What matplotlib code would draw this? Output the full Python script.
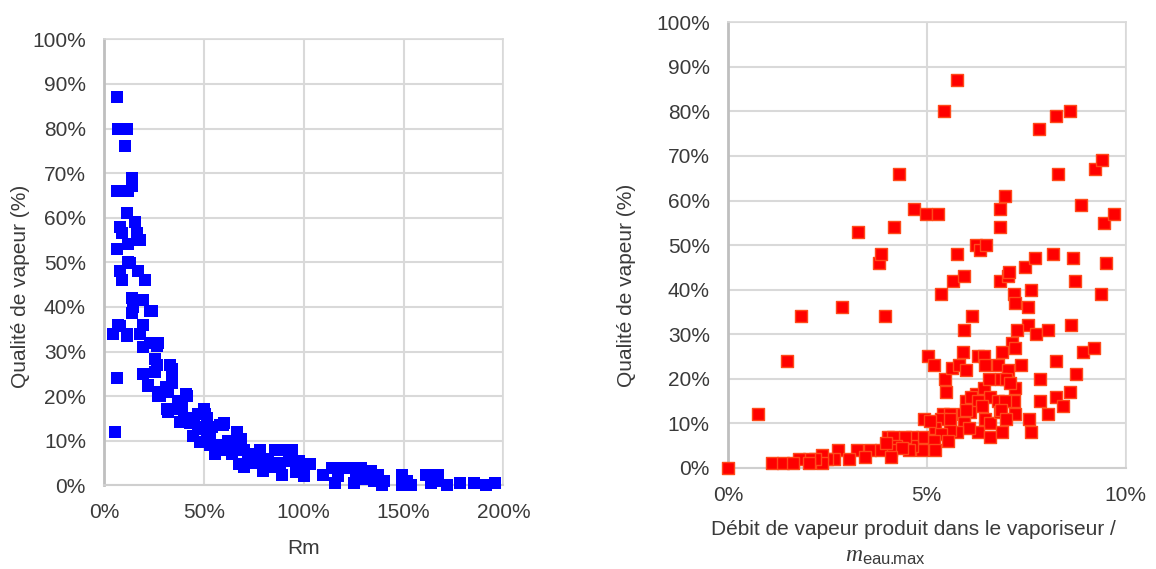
import matplotlib
matplotlib.use("Agg")
import matplotlib.pyplot as plt
from matplotlib.ticker import FuncFormatter, MultipleLocator

plt.rcParams["font.family"] = ["Liberation Sans", "DejaVu Sans"]
plt.rcParams["mathtext.fontset"] = "custom"
plt.rcParams["mathtext.rm"] = "Liberation Sans"
plt.rcParams["mathtext.it"] = "Liberation Serif:italic"

# left panel: vapour quality vs Rm (both in %)
rm = [6.3, 7.2, 11.4, 10.5, 13.9, 13.9, 6.3, 12.2, 11.4, 15.5, 8, 17.2, 8.9, 6.3,
      12.2, 12.2, 8, 17.2, 8.9, 20.5, 13.9, 19.7, 14.7, 23, 19.7, 4.7, 11.4, 18,
      7.2, 23, 27.2, 19.7, 25.5, 6.3, 19.7, 25.5, 33.9, 22.2, 28.1, 33.9, 41.4,
      32.2, 38.1, 43.1, 50.6, 49.8, 59.8, 66.5, 44.8, 48.1, 5.5, 53.1, 68.1, 61.5,
      16.4, 18, 13, 13.9, 8, 26.4, 11.4,
      24, 26.5, 22, 27.5, 31, 33, 34, 32, 27, 31.6, 36, 41, 37, 39, 42, 45, 40,
      44.5, 50, 51.4, 47, 51.4, 54, 58, 60,
      55.7, 61.7, 65.1, 66.8, 68.6, 67.7, 72, 76.3, 78, 78.9, 79.7, 85.7, 90.9,
      94.3, 92.6, 89.2, 97.8, 99.5, 103, 109.8, 114, 115.8, 120, 123.5, 125.3,
      128.7, 130.4, 133.8, 137.3, 139, 149.3, 149.3, 153.6, 161.3, 163.9, 167.4,
      171.6, 178.5, 185.4, 191.4, 195.7,
      62, 70, 74, 82, 84, 88, 96, 100, 117, 126, 131, 135, 140, 152, 166, 70, 64,
      57, 53, 47]
qualite_rm = [87, 80, 80, 76, 69, 67, 66, 66, 61, 59, 58, 55, 56.5, 53,
              54, 50, 48, 48, 46, 46, 42, 41.5, 40, 39, 36, 34, 34, 34,
              36, 32, 32, 31, 28.3, 24, 25, 25.3, 26, 22.3, 20, 23, 20,
              16.5, 14.2, 14, 16, 12.7, 13.5, 11.6, 11, 9.7, 12, 9, 9.7, 8.2,
              56.6, 55, 49.9, 38.7, 35.7, 31.3, 33.5,
              39, 27, 22.5, 21, 22, 27, 25, 21, 20, 17, 17, 20.5, 19, 17.5, 15, 14.5, 14.5,
              11, 17, 15, 13, 10.5, 13, 13.5, 14,
              7.1, 7.9, 8.7, 12, 10.4, 4.7, 6.3, 7.1, 7.9, 5.5, 3.1, 7.9, 7.9,
              7.9, 5.5, 2.3, 5.5, 3.9, 4.7, 2.3, 3.9, 0.6, 3.9, 3.9, 0.6,
              3.9, 1.5, 3.1, 2.3, 0, 2.3, 0, 0, 2.3, 0.6, 2.3,
              0, 0.6, 0.6, 0, 0.6,
              10, 8, 5, 6, 4, 5, 3, 2, 2, 2, 3, 1, 1, 1, 1, 4, 7,
              9, 11.5, 16]

# right panel: vapour quality vs produced vapour flow / m_eau,max (both in %)
debit = [0, 0.76, 1.5, 1.83, 2.88, 3.28, 3.81, 3.84, 3.96, 4.18, 4.31, 4.69, 4.98,
         5.29, 5.43, 5.76, 5.36, 5.65, 5.76, 5.94, 6.14, 5.94, 6.25, 6.34, 6.5,
         6.83, 6.83, 6.98, 6.83, 7.05, 7.07, 7.2, 7.23, 7.46, 7.72, 7.63, 7.54,
         7.54, 7.28, 7.75, 7.83, 8.24, 8.59, 8.29, 8.17, 8.69, 8.73, 8.88, 9.24,
         9.4, 9.46, 9.71, 9.51, 9.38, 8.06, 8.64, 7.14, 7.23, 6.9, 5.91, 8.93,
         9.21, 8.24, 8.75, 7.86, 7.36, 8.59, 8.24, 8.06, 8.42, 7.86, 7.57, 7.63,
         7.23, 7.2, 7.23, 5.04, 5.18, 5.45, 5.48, 5.63, 5.8, 5.98, 6.28, 6.43,
         6.47, 6.79, 7.05, 6.25, 5.98, 6.12, 6.43, 6.56, 6.88, 7.0, 7.1, 6.6,
         6.79, 6.96, 6.3, 6.38, 5.9, 6.1, 5.98, 6.47, 6.6, 6.83, 6.88, 7.0, 6.3,
         6.6, 6.9, 5.94, 6.07, 5.76, 5.58, 5.4, 5.58, 5.36, 5.58, 5.22, 5.36,
         5.54, 5.18, 5.22, 4.93, 5.09, 4.87, 4.87, 4.64, 4.64, 4.46, 4.55, 4.02,
         4.15, 4.24, 4.11, 4.37, 3.57, 3.84, 3.97, 3.26, 3.44, 2.77, 3.04, 2.68,
         2.5, 2.37, 2.37, 2.19, 2.05, 1.79, 1.12, 1.38, 1.65, 2.05, 4.11]
qualite_debit = [0, 12, 24, 34, 36, 53, 46, 48, 34, 54, 66, 58, 57,
                 57, 80, 87, 39, 42, 48, 43, 34, 31, 50, 49, 50,
                 58, 54, 61, 42, 43, 44, 39, 37, 45, 47, 40, 36,
                 32, 31, 30, 76, 79, 80, 66, 48, 47, 42, 59, 67,
                 69, 55, 57, 46, 39, 31, 32, 28, 27, 26, 26, 26,
                 27, 24, 21, 20, 23, 17, 16, 12, 14, 15, 11, 8,
                 12, 15, 18, 25, 23, 20, 17, 22.5, 23, 22, 25, 25,
                 23, 23, 22, 16.5, 15, 16, 18, 20, 20, 20, 19, 16,
                 15, 15, 15, 14, 12, 12.5, 13, 11, 10, 12.5, 13, 11, 8,
                 7, 8, 10, 9, 8, 8.5, 12, 12, 11, 11, 9, 7.5,
                 6, 6, 4, 11, 10.5, 7, 4, 7, 5, 7, 4, 7,
                 7, 5, 4, 4.5, 4, 4, 5.5, 4, 2.5, 4, 2, 2,
                 2, 3, 1, 2, 2, 2, 1, 1, 1, 1, 2.5]

TXT = "#3a3a3a"
GRID = "#d9d9d9"
pct = FuncFormatter(lambda v, _: f"{v:.0f}%")

fig = plt.figure(figsize=(11.56, 5.69), dpi=100)
ax1 = fig.add_axes([0.0900, 0.1471, 0.3454, 0.7838])
ax2 = fig.add_axes([0.6296, 0.1777, 0.3441, 0.7831])

ax1.scatter(rm, qualite_rm, marker="s", s=72, color="#0000ff", linewidths=0,
            clip_on=False, zorder=3)
ax2.scatter(debit, qualite_debit, marker="s", s=66, facecolor="#ff0000",
            edgecolor="#ff4a1a", linewidths=1.0, clip_on=False, zorder=3)

ax1.set_xlim(0, 200)
ax1.xaxis.set_major_locator(MultipleLocator(50))
ax2.set_xlim(0, 10)
ax2.xaxis.set_major_locator(MultipleLocator(5))

for ax in (ax1, ax2):
    ax.set_ylim(0, 100)
    ax.yaxis.set_major_locator(MultipleLocator(10))
    ax.xaxis.set_major_formatter(pct)
    ax.yaxis.set_major_formatter(pct)
    ax.tick_params(length=0, pad=13, labelsize=15, labelcolor=TXT)
    ax.grid(True, color=GRID, linewidth=1.5)
    ax.set_axisbelow(True)
    ax.spines["left"].set_color("#bfbfbf")
    ax.spines["left"].set_linewidth(2)
    ax.spines["bottom"].set_color("#cfcfcf")
    ax.spines["bottom"].set_linewidth(1.5)
    for side in ("top", "right"):
        ax.spines[side].set_color(GRID)
        ax.spines[side].set_linewidth(1.2)
    ax.set_ylabel("Qualité de vapeur (%)", fontsize=15, color=TXT, va="center")

ax1.set_xlabel("Rm", fontsize=15, color=TXT, va="center")
ax1.xaxis.set_label_coords(0.5, -0.141)
ax1.yaxis.set_label_coords(-0.208, 0.447)

ax2.yaxis.set_label_coords(-0.254, 0.41)
ax2.text(0.466, -0.139, "Débit de vapeur produit dans le vaporiseur /",
         transform=ax2.transAxes, ha="center", va="center", fontsize=15, color=TXT)
ax2.text(0.395, -0.197, r"$m_{\mathrm{eau.\!\!max}}$", transform=ax2.transAxes,
         ha="center", va="center", fontsize=17, color=TXT)

fig.savefig("out.png", dpi=100)
